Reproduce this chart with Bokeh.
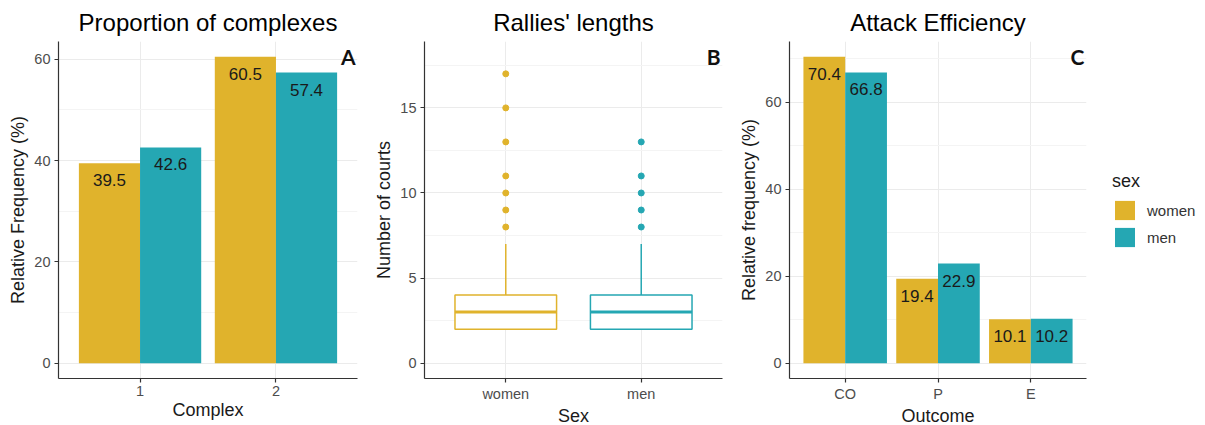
from bokeh.plotting import figure
from bokeh.models import (FactorRange, Range1d, FixedTicker, LabelSet, Label,
                          ColumnDataSource, Legend, LegendItem)
from bokeh.core.properties import value
from bokeh.transform import dodge
from bokeh.layouts import row
from bokeh.embed import file_html
from bokeh.resources import INLINE

# ---------------- data ----------------
complex_cats = ["1", "2"]
complex_women = [39.5, 60.5]
complex_men = [42.6, 57.4]

sexes = ["women", "men"]
box_q1 = [2, 2]
box_median = [3, 3]
box_q3 = [4, 4]
box_upper = [7, 7]
outliers_women = [8, 9, 10, 11, 13, 15, 17]
outliers_men = [8, 9, 10, 11, 13]

outcome_cats = ["CO", "P", "E"]
outcome_women = [70.4, 19.4, 10.1]
outcome_men = [66.8, 22.9, 10.2]

WOMEN = "#E0B32C"
MEN = "#25A7B3"
FONT = "Liberation Sans"
TOP = 40
BOTTOM = 40
FH = 337


def base(title, factors, y0, y1, fw, left, right, xlabel, ylabel, major, minor):
    p = figure(frame_width=fw, frame_height=FH,
               x_range=FactorRange(factors=factors, range_padding=0.1,
                                   range_padding_units="absolute"),
               y_range=Range1d(y0, y1),
               output_backend="svg", toolbar_location=None,
               min_border_left=left, min_border_right=right,
               min_border_top=TOP, min_border_bottom=BOTTOM)
    p.outline_line_color = None
    p.title.text = title
    p.title.align = "center"
    p.title.text_font = FONT
    p.title.text_font_size = "24px"
    p.title.text_font_style = "normal"
    p.title.text_color = "#000000"
    p.title.standoff = 12
    p.yaxis.ticker = FixedTicker(ticks=major, minor_ticks=minor)
    for ax in (p.xaxis, p.yaxis):
        ax.axis_line_color = "#333333"
        ax.axis_line_width = 1.2
        ax.major_tick_line_color = "#333333"
        ax.major_tick_line_width = 1.2
        ax.major_tick_out = 4
        ax.major_tick_in = 0
        ax.minor_tick_line_color = None
        ax.major_label_text_font = FONT
        ax.major_label_text_font_size = "14.5px"
        ax.major_label_text_color = "#4D4D4D"
        ax.axis_label_text_font = FONT
        ax.axis_label_text_font_size = "18px"
        ax.axis_label_text_font_style = "normal"
        ax.axis_label_text_color = "#1A1A1A"
    p.xaxis.axis_label = xlabel
    p.yaxis.axis_label = ylabel
    p.xaxis.major_label_standoff = 3
    p.xaxis.axis_label_standoff = 1
    p.yaxis.major_label_standoff = 4
    p.yaxis.axis_label_standoff = 3
    p.xgrid.grid_line_color = "#EBEBEB"
    p.ygrid.grid_line_color = "#EBEBEB"
    p.ygrid.minor_grid_line_color = "#F4F4F4"
    return p


def letter(p, text, xend, yend):
    p.add_layout(Label(x=xend, y=yend, x_offset=-2, y_offset=-15, text=text,
                       text_align="right", text_baseline="middle",
                       text_font="Lato", text_font_size="21px",
                       text_font_style="bold", text_color="#111111"))


def bars(p, cats, women, men):
    src = ColumnDataSource(dict(cat=cats, women=women, men=men,
                                wl=[f"{v:.1f}" for v in women],
                                ml=[f"{v:.1f}" for v in men]))
    rw = p.vbar(x=dodge("cat", -0.225, range=p.x_range), top="women", bottom=0,
                width=0.45, source=src, fill_color=WOMEN, line_color=None)
    rm = p.vbar(x=dodge("cat", 0.225, range=p.x_range), top="men", bottom=0,
                width=0.45, source=src, fill_color=MEN, line_color=None)
    for off, col, lab in ((-0.225, "women", "wl"), (0.225, "men", "ml")):
        p.add_layout(LabelSet(x=dodge("cat", off, range=p.x_range), y=col, text=lab,
                              source=src, y_offset=-17, text_align="center",
                              text_baseline="middle", text_font=value(FONT),
                              text_font_size=value("17px"), text_color="#1A1A1A"))
    return rw, rm


# ---------------- panel A ----------------
pa = base("Proportion of complexes", complex_cats, -3.025, 63.525, 299, 58, 10,
          "Complex", "Relative Frequency (%)", [0, 20, 40, 60], [10, 30, 50])
bars(pa, complex_cats, complex_women, complex_men)
letter(pa, "A", 2.1, 63.525)

# ---------------- panel B ----------------
pb = base("Rallies' lengths", sexes, -0.9, 18.9, 298, 57, 10,
          "Sex", "Number of courts", [0, 5, 10, 15], [2.5, 7.5, 12.5, 17.5])
colors = [WOMEN, MEN]
bsrc = ColumnDataSource(dict(sex=sexes, q1=box_q1, med=box_median, q3=box_q3,
                             up=box_upper, color=colors))
pb.segment(x0="sex", y0="q3", x1="sex", y1="up", source=bsrc,
           line_color="color", line_width=1.5)
pb.vbar(x="sex", bottom="q1", top="q3", width=0.75, source=bsrc,
        fill_color="white", line_color="color", line_width=1.5)
pb.segment(x0=dodge("sex", -0.375, range=pb.x_range), y0="med",
           x1=dodge("sex", 0.375, range=pb.x_range), y1="med", source=bsrc,
           line_color="color", line_width=3)
osrc_w = ColumnDataSource(dict(sex=["women"] * len(outliers_women), y=outliers_women))
osrc_m = ColumnDataSource(dict(sex=["men"] * len(outliers_men), y=outliers_men))
pb.scatter(x="sex", y="y", source=osrc_w, size=6, color=WOMEN)
pb.scatter(x="sex", y="y", source=osrc_m, size=6, color=MEN)
letter(pb, "B", 2.1, 18.9)

# ---------------- panel C ----------------
pc = base("Attack Efficiency", outcome_cats, -3.52, 73.92, 297, 57, 119,
          "Outcome", "Relative frequency (%)", [0, 20, 40, 60], [10, 30, 50, 70])
rw, rm = bars(pc, outcome_cats, outcome_women, outcome_men)
letter(pc, "C", 3.1, 73.92)
legend = Legend(items=[LegendItem(label="women", renderers=[rw]),
                       LegendItem(label="men", renderers=[rm])],
                title="sex", location=(26, 129))
legend.margin = 0
legend.padding = 0
legend.spacing = 3
legend.glyph_width = 25
legend.glyph_height = 24
legend.label_standoff = 10
legend.border_line_color = None
legend.background_fill_alpha = 0
legend.title_text_font = FONT
legend.title_text_font_size = "18px"
legend.title_text_font_style = "normal"
legend.title_text_color = "#1A1A1A"
legend.title_standoff = 6
legend.label_text_font = FONT
legend.label_text_font_size = "15px"
legend.label_text_color = "#333333"
pc.add_layout(legend, "right")

layout = row(pa, pb, pc)
open("out.html", "w").write(file_html(layout, INLINE))
